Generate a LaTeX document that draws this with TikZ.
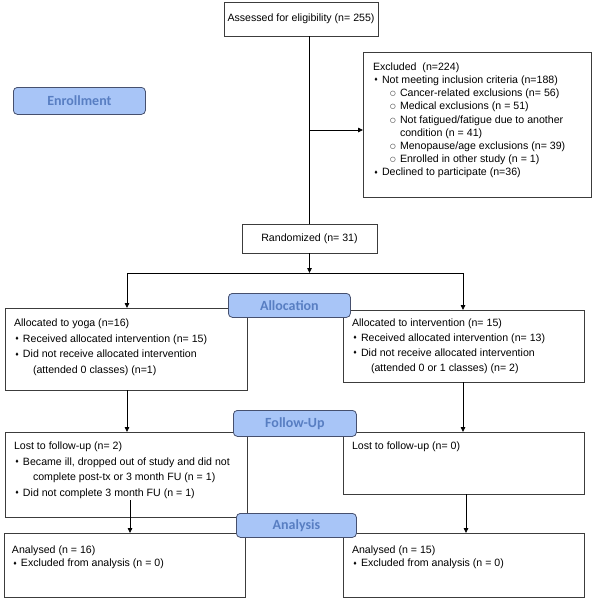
\documentclass[tikz,border=0pt]{standalone}
\usepackage{fontspec}
\setmainfont{Liberation Sans}
\newfontfamily\lblfont{Carlito}
\newfontfamily\symfont{DejaVu Sans}
\usetikzlibrary{arrows.meta}
\definecolor{lblfill}{RGB}{168,197,247}
\definecolor{lbldraw}{RGB}{70,80,110}
\definecolor{lbltext}{RGB}{88,126,194}
\definecolor{boxdraw}{RGB}{60,60,60}
\newcommand{\bul}{\raisebox{1.8pt}{\symfont\fontsize{5}{5}\selectfont ♦}}
\newcommand{\opc}{\raisebox{1.0pt}{\symfont\fontsize{6.5}{6.5}\selectfont ○}}
\newcommand{\itm}{\makebox[9pt][l]{\hspace{0.8pt}\bul}}
\newcommand{\sitm}{\hspace{17pt}\makebox[10pt][l]{\opc}}
\newcommand{\fl}{\rule{0pt}{8pt}}
\newcommand{\ls}[1]{\fontsize{10.6}{#1}\selectfont}
\tikzset{
  box/.style={draw=boxdraw, line width=0.8pt, anchor=north west, inner sep=0pt, outer sep=0pt, font=\ls{12}},
  txt/.style={anchor=north west, inner sep=0pt, outer sep=0pt, align=left},
  lbl/.style={draw=lbldraw, fill=lblfill, rounded corners=4pt, line width=0.8pt, text=lbltext,
    font=\lblfont\bfseries\fontsize{14}{15}\selectfont, inner sep=0pt, anchor=north west},
  arr/.style={-{Triangle[length=5pt,width=4.5pt]}, line width=0.8pt},
  ln/.style={line width=0.8pt}
}
\begin{document}
\begin{tikzpicture}[x=1pt,y=-1pt]
\useasboundingbox (0,0) rectangle (594,600);
% boxes
\node[box, minimum width=154pt, minimum height=34pt] (assess) at (224,2) {Assessed for eligibility (n= 255)};
\node[box, minimum width=228pt, minimum height=145pt] (excl) at (363,52) {};
\node[box, minimum width=135pt, minimum height=29pt] (rand) at (242,224) {Randomized (n= 31)};
\node[box, minimum width=242pt, minimum height=82pt] (allocL) at (5,308) {};
\node[box, minimum width=241pt, minimum height=72pt] (allocR) at (343,310) {};
\node[box, minimum width=242pt, minimum height=85pt] (fuL) at (5,432) {};
\node[box, minimum width=241pt, minimum height=62pt] (fuR) at (343,432) {};
\node[box, minimum width=241pt, minimum height=64pt] (anL) at (4,533) {};
\node[box, minimum width=241pt, minimum height=64pt] (anR) at (343,533) {};
% texts
\node[txt, font=\ls{13.2}] (exclT) at (373,62.3) {\fl Excluded\ \ (n=224)\\
\itm Not meeting inclusion criteria (n=188)\\
\sitm Cancer-related exclusions (n= 56)\\
\sitm Medical exclusions (n = 51)\\
\sitm Not fatigued/fatigue due to another\\
\hspace{27pt}condition (n = 41)\\
\sitm Menopause/age exclusions (n= 39)\\
\sitm Enrolled in other study (n = 1)\\
\itm Declined to participate (n=36)};
\node[txt, font=\ls{15.6}] (allocLT) at (14,318.6) {\fl Allocated to yoga (n=16)\\
\itm Received allocated intervention (n= 15)\\
\itm Did not receive allocated intervention\\
\hspace{19pt}(attended 0 classes) (n=1)};
\node[txt, font=\ls{14.8}] (allocRT) at (352,318.6) {\fl Allocated to intervention (n= 15)\\
\itm Received allocated intervention (n= 13)\\
\itm Did not receive allocated intervention\\
\hspace{19pt}(attended 0 or 1 classes) (n= 2)};
\node[txt, font=\ls{15.6}] (fuLT) at (14,441.6) {\fl Lost to follow-up (n= 2)\\
\itm Became ill, dropped out of study and did not\\
\hspace{19pt}complete post-tx or 3 month FU (n = 1)\\
\itm Did not complete 3 month FU (n = 1)};
\node[txt, font=\ls{15.6}] (fuRT) at (352,441.6) {\fl Lost to follow-up (n= 0)};
\node[txt, font=\ls{13.2}] (anLT) at (12,545.6) {\fl Analysed (n = 16)\\
\itm Excluded from analysis (n = 0)};
\node[txt, font=\ls{13.2}] (anRT) at (352,545.6) {\fl Analysed (n = 15)\\
\itm Excluded from analysis (n = 0)};
% connectors
\coordinate (exin) at (363,130);
\coordinate (sl) at (127,273);
\coordinate (sr) at (463,273);
\coordinate (fl) at (130,500);
\coordinate (fr) at (466,494);
\draw[ln] (rand.north |- assess.south) -- (rand.north);
\draw[arr] (rand.north |- exin) -- (exin);
\draw[arr] (rand.south) -- (rand.south |- sl);
\draw[ln] (sl) -- (sr);
\draw[arr] (sl) -- (sl |- allocL.north);
\draw[arr] (sr) -- (sr |- allocR.north);
\draw[arr] (sl |- allocL.south) -- (sl |- fuL.north);
\draw[arr] (sr |- allocR.south) -- (sr |- fuR.north);
\draw[arr] (fl) -- (fl |- anL.north);
\draw[arr] (fr) -- (fr |- anR.north);
% stage labels
\node[lbl, minimum width=132pt, minimum height=27pt] (enr) at (13,87) {Enrollment};
\node[lbl, minimum width=122pt, minimum height=24pt] (alloc) at (228,293) {Allocation};
\node[lbl, minimum width=123pt, minimum height=26pt] (fu) at (233,410) {Follow-Up};
\node[lbl, minimum width=120pt, minimum height=24pt] (an) at (236,513) {Analysis};
\end{tikzpicture}
\end{document}
